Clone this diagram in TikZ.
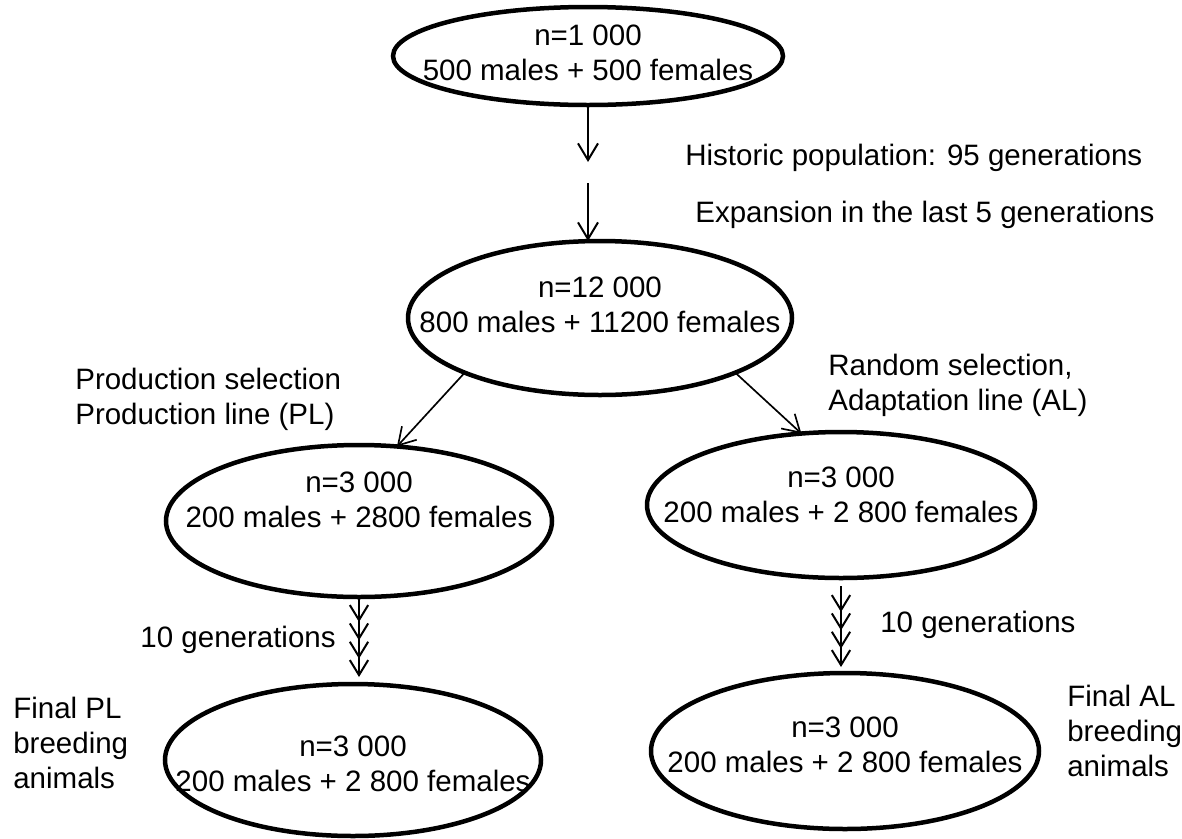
\documentclass[tikz,border=0pt]{standalone}
\usepackage{fontspec}
\setmainfont{Liberation Sans}
\usetikzlibrary{shapes.geometric,arrows.meta,decorations.markings}
\tikzset{
  barb/.tip={Straight Barb[length=10pt,width=12pt]},
  sbarb/.tip={Straight Barb[length=9pt,width=11pt]},
}
\begin{document}
\begin{tikzpicture}[x=0.6pt,y=-0.6pt,
  pop/.style={draw, ellipse, line width=2.7pt, inner sep=0pt, outer sep=0pt},
  txt/.style={font=\fontsize{17.7}{21}\selectfont, inner sep=0pt, align=center},
  ltxt/.style={font=\fontsize{17.7}{21}\selectfont, inner sep=0pt, align=left},
  arr/.style={line width=1.2pt, -{barb}},
  darr/.style={line width=1pt, -{barb}},
  quad/.style={line width=1.2pt, -{sbarb}, postaction={decorate}, decoration={markings,
    mark=at position -33pt with {\arrow{sbarb}},
    mark=at position -22pt with {\arrow{sbarb}},
    mark=at position -11pt with {\arrow{sbarb}}}},
]
\useasboundingbox (0,0) rectangle (1182,838);

% ellipses
\node[pop, minimum width=234pt, minimum height=58.8pt] (e0) at (588,56) {};
\node[pop, minimum width=230.4pt, minimum height=92.4pt] (e1) at (600,318) {};
\node[pop, minimum width=231.6pt, minimum height=91.2pt] (e2) at (359,521) {};
\node[pop, minimum width=232.8pt, minimum height=87.6pt] (e3) at (841,505) {};
\node[pop, minimum width=225.6pt, minimum height=91.2pt] (e4) at (353,760) {};
\node[pop, minimum width=232.8pt, minimum height=93.6pt] (e5) at (845,751) {};

% ellipse texts
\node[txt] (t0) at (588,53) {n=1 000\\500 males + 500 females};
\node[txt] (t1) at (600,305) {n=12 000\\800 males + 11200 females};
\node[txt] (t2) at (359,500) {n=3 000\\200 males + 2800 females};
\node[txt] (t3) at (841,495) {n=3 000\\200 males + 2 800 females};
\node[txt] (t4) at (353,764) {n=3 000\\200 males + 2 800 females};
\node[txt] (t5) at (845,745) {n=3 000\\200 males + 2 800 females};

% labels
\node[ltxt, anchor=west] (hist) at (685,158) {Historic population: 95 generations};
\node[ltxt, anchor=west] (expn) at (695,215) {Expansion in the last 5 generations};
\node[ltxt, anchor=west] (prod) at (75,399) {Production selection\\Production line (PL)};
\node[ltxt, anchor=west] (rand) at (828,385) {Random selection,\\Adaptation line (AL)};
\node[ltxt, anchor=east] (genL) at (336,640) {10 generations};
\node[ltxt, anchor=west] (genR) at (880,625) {10 generations};
\node[ltxt, anchor=west] (finPL) at (13,743) {Final PL\\breeding\\animals};
\node[ltxt, anchor=west] (finAL) at (1067,731) {Final AL\\breeding\\animals};

% connectors
\coordinate (a1) at (588,162);
\coordinate (a2) at (588,183);
\draw[arr] (e0.south) -- (a1);
\draw[arr] (a2) -- (a2 |- e1.north);
\draw[darr] (e1.202) -- (e2.63);
\draw[darr] (e1.-22) -- (e3.119);
\coordinate (q1) at (359,677);
\coordinate (q2) at (841,667);
\draw[quad] (e2.south) -- (q1);
\draw[quad] ([yshift=-4.8pt]e3.south) -- (q2);
\end{tikzpicture}
\end{document}
